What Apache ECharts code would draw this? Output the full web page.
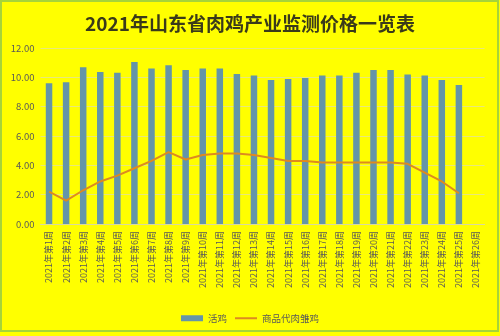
<!DOCTYPE html>
<html><head><meta charset="utf-8">
<script src="https://cdn.jsdelivr.net/npm/echarts@6/dist/echarts.min.js"></script>
<style>html,body{margin:0;padding:0;background:#ffff00}#c{width:500px;height:336px}</style>
</head><body><div id="c"></div>
<script>
const weeks = ["2021年第1周","2021年第2周","2021年第3周","2021年第4周","2021年第5周","2021年第6周","2021年第7周","2021年第8周","2021年第9周","2021年第10周","2021年第11周","2021年第12周","2021年第13周","2021年第14周","2021年第15周","2021年第16周","2021年第17周","2021年第18周","2021年第19周","2021年第20周","2021年第21周","2021年第22周","2021年第23周","2021年第24周","2021年第25周","2021年第26周"];
const liveChicken = [9.59,9.66,10.68,10.36,10.31,11.04,10.61,10.82,10.50,10.61,10.61,10.22,10.13,9.82,9.88,9.95,10.13,10.13,10.31,10.50,10.50,10.20,10.13,9.82,9.48,null];
const chicks = [2.2,1.6,2.3,2.9,3.3,3.8,4.3,4.9,4.4,4.7,4.8,4.8,4.7,4.5,4.3,4.3,4.2,4.2,4.2,4.2,4.2,4.1,3.5,2.9,2.1,null];
const seriesNames = ["活鸡","商品代肉雏鸡"];
const titleText = "2021年山东省肉鸡产业监测价格一览表";

const chart = echarts.init(document.getElementById('c'), null, {renderer:'canvas'});
const font = '"Noto Sans CJK SC", sans-serif';
chart.setOption({
  backgroundColor:'#ffff00',
  animation:false,
  title:{text:titleText,left:'center',top:9,textStyle:{fontFamily:font,fontSize:19,fontWeight:'bold',color:'#3a3a1a'}},
  grid:{left:40.5,right:15.5,top:48,bottom:112},
  legend:{bottom:8,left:'center',itemGap:8,itemWidth:22,itemHeight:6,
    textStyle:{fontFamily:font,fontSize:9.5,color:'#595959'},
    data:[{name:seriesNames[0],icon:'rect'},{name:seriesNames[1],icon:'path://M0,0 L22,0 L22,2 L0,2 Z'}]},
  xAxis:{type:'category',data:weeks,
    axisLine:{lineStyle:{color:'#d9d9a0'}},axisTick:{show:false},
    axisLabel:{interval:0,rotate:90,fontFamily:font,fontSize:9,color:'#595959',margin:7}},
  yAxis:{type:'value',min:0,max:12,interval:2,
    axisLabel:{formatter:v=>v.toFixed(2),fontFamily:font,fontSize:9.5,color:'#595959',margin:6},
    splitLine:{lineStyle:{color:'#e8e87a',width:1}},axisLine:{show:false},axisTick:{show:false}},
  series:[
    {name:seriesNames[0],type:'bar',data:liveChicken,barWidth:6.5,itemStyle:{color:'#6495a8'}},
    {name:seriesNames[1],type:'line',data:chicks,symbol:'none',lineStyle:{color:'#dd8a20',width:2},itemStyle:{color:'#dd8a20'}}
  ],
  graphic:[{type:'rect',shape:{x:1,y:1,width:497,height:330},style:{fill:'none',stroke:'#a6d43a',lineWidth:2},silent:true}]
});
</script></body></html>
